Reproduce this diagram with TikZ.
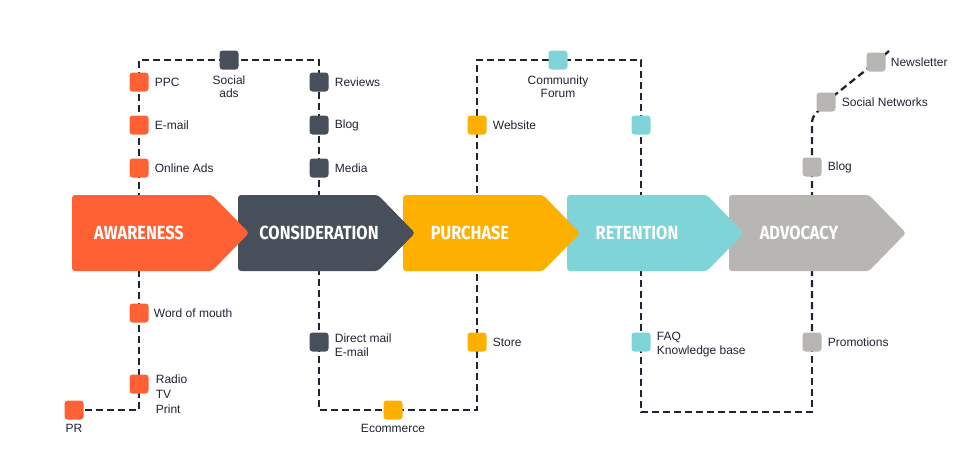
\documentclass[tikz,border=0pt]{standalone}
\usepackage{fontspec}
\setmainfont{Liberation Sans}
\newfontfamily\stagefont[FakeStretch=0.86]{Fira Sans}
\usepackage{tikz}
\usetikzlibrary{positioning}

\definecolor{awarecol}{HTML}{FF6034}
\definecolor{considcol}{HTML}{474F5A}
\definecolor{purchcol}{HTML}{FDB000}
\definecolor{retaincol}{HTML}{7FD4D8}
\definecolor{advocol}{HTML}{B8B6B3}
\definecolor{inkcol}{HTML}{1F2430}

\pgfdeclarelayer{bg}
\pgfsetlayers{bg,main}

\tikzset{
  touchpt/.style={fill=#1, rounded corners=3pt, minimum size=19pt, inner sep=0pt},
  tag/.style={font=\fontsize{12}{14}\selectfont, text=inkcol, inner sep=0pt, align=left},
  link/.style={draw=inkcol, line width=2.3pt, dash pattern=on 7pt off 4pt},
  stagetxt/.style={font=\stagefont\bfseries\fontsize{19}{19}\selectfont, text=white, inner sep=0pt},
}

\begin{document}
\begin{tikzpicture}[x=1pt, y=-1pt, node distance=6pt]

\useasboundingbox (0,0) rectangle (972,464);

\foreach \lx/\col in {729/advocol, 567/retaincol, 403/purchcol, 238/considcol, 72/awarecol}
  \fill[\col, rounded corners=3pt] (\lx,195) -- ++(140,0) -- ++(37,38) -- ++(-37,38) -- ++(-140,0) -- cycle;

\node[stagetxt] (aware) at (139,233) {AWARENESS};
\node[stagetxt] (consid) at (319,233) {CONSIDERATION};
\node[stagetxt] (purch) at (470,233) {PURCHASE};
\node[stagetxt] (retain) at (637,233) {RETENTION};
\node[stagetxt] (advoc) at (799,233) {ADVOCACY};

% awareness
\node[touchpt=awarecol] (ppc) at (139,82) {};
\node[touchpt=awarecol] (email) at (139,125) {};
\node[touchpt=awarecol] (online) at (139,168) {};
\node[touchpt=awarecol] (wom) at (139,313) {};
\node[touchpt=awarecol] (radio) at (139,384) {};
\node[touchpt=awarecol] (pr) at (74,410) {};
\node[tag, right=of ppc] (ppc-t) {PPC};
\node[tag, right=of email] (email-t) {E-mail};
\node[tag, right=of online] (online-t) {Online Ads};
\node[tag, right=5pt of wom] (wom-t) {Word of mouth};
\node[tag, right=7pt of radio, yshift=-10pt, font=\fontsize{12}{15}\selectfont] (radio-t) {Radio\\TV\\Print};
\node[tag, below=4pt of pr] (pr-t) {PR};

% consideration
\node[touchpt=considcol] (socads) at (229,60) {};
\node[touchpt=considcol] (reviews) at (319,82) {};
\node[touchpt=considcol] (blog) at (319,125) {};
\node[touchpt=considcol] (media) at (319,168) {};
\node[touchpt=considcol] (dmail) at (319,342) {};
\node[tag, below=6pt of socads, align=center, font=\fontsize{12}{13}\selectfont] (socads-t) {Social\\ads};
\node[tag, right=of reviews] (reviews-t) {Reviews};
\node[tag, right=of blog] (blog-t) {Blog};
\node[tag, right=of media] (media-t) {Media};
\node[tag, right=of dmail, yshift=-3pt] (dmail-t) {Direct mail\\E-mail};

% purchase
\node[touchpt=purchcol] (website) at (477,125) {};
\node[touchpt=purchcol] (store) at (477,342) {};
\node[touchpt=purchcol] (ecom) at (393,410) {};
\node[tag, right=of website] (website-t) {Website};
\node[tag, right=of store] (store-t) {Store};
\node[tag, below=4pt of ecom] (ecom-t) {Ecommerce};

% retention
\node[touchpt=retaincol] (forum) at (558,60) {};
\node[touchpt=retaincol] (rettop) at (641,125) {};
\node[touchpt=retaincol] (faq) at (641,342) {};
\node[tag, below=6pt of forum, align=center, font=\fontsize{12}{13}\selectfont] (forum-t) {Community\\Forum};
\node[tag, right=of faq, yshift=-3pt] (faq-t) {FAQ\\Knowledge base};

% advocacy
\node[touchpt=advocol] (blogadv) at (812,167) {};
\node[touchpt=advocol] (promo) at (812,342) {};
\node[touchpt=advocol] (socnet) at (826,102) {};
\node[touchpt=advocol] (news) at (876,62) {};
\node[tag, right=of blogadv] (blogadv-t) {Blog};
\node[tag, right=of promo] (promo-t) {Promotions};
\node[tag, right=of socnet] (socnet-t) {Social Networks};
\node[tag, right=5pt of news] (news-t) {Newsletter};

\coordinate (loopr) at (726,412);
\coordinate (bendadv) at (812,118);
\coordinate (tailadv) at (889,51);

\begin{pgfonlayer}{bg}
\draw[link] (pr.center) -| (radio.center) -- (ppc.center) |- (socads.center) -| (reviews.center)
  -- (dmail.center) |- (ecom.center) -| (store.center) -- (website.center) |- (forum.center)
  -| (rettop.center) -- (faq.center) |- (loopr) -| (promo.center);
\draw[link, rounded corners=4pt] (promo.center) -- (bendadv) -- (socnet.center) -- (news.center) -- (tailadv);
\end{pgfonlayer}

\end{tikzpicture}
\end{document}
